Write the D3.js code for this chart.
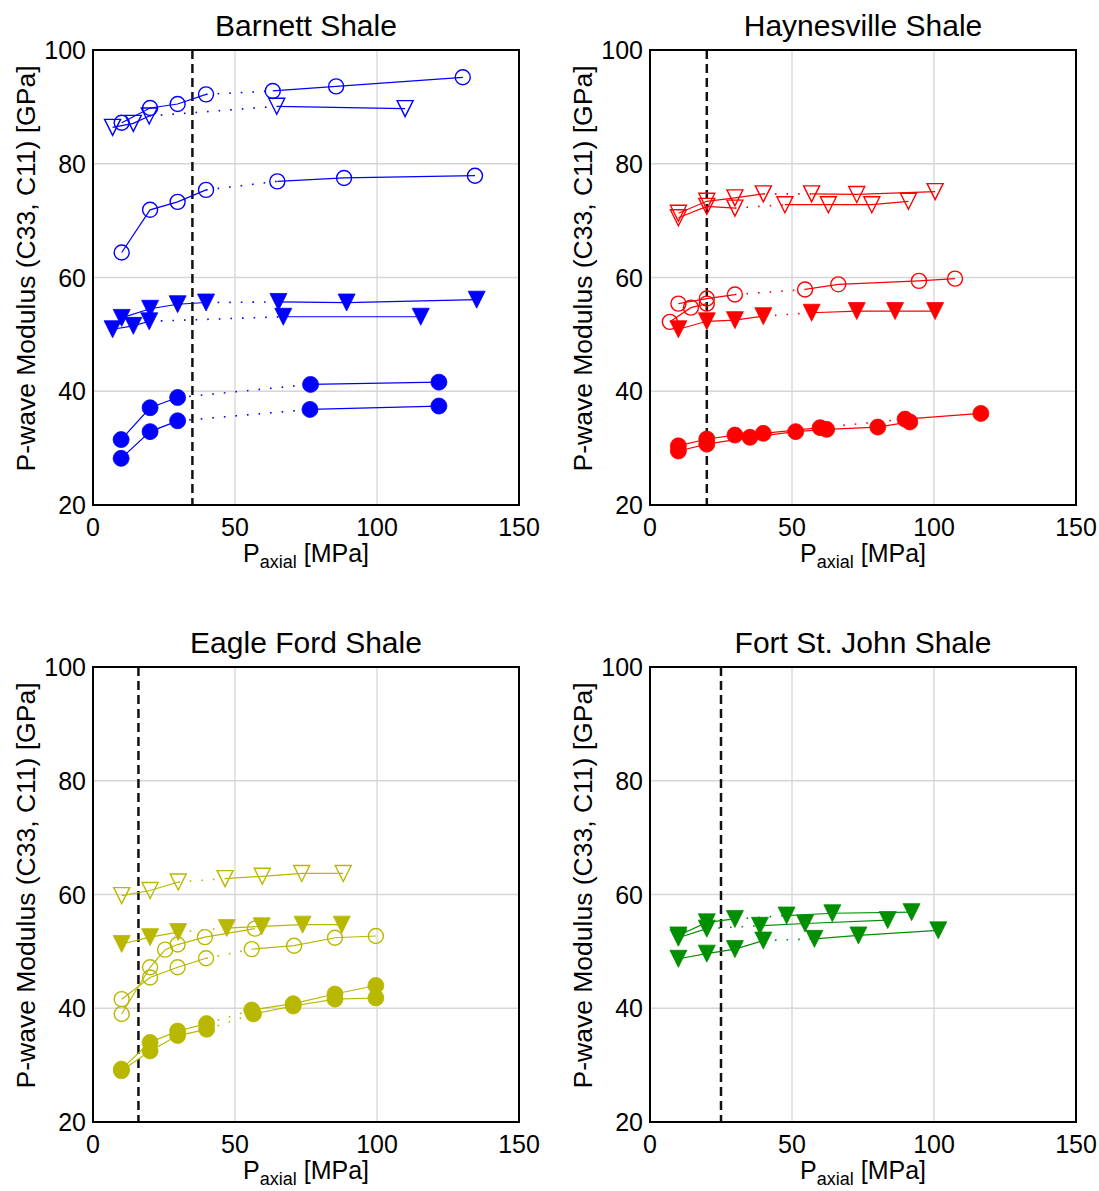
<!DOCTYPE html>
<html>
<head>
<script src="https://d3js.org/d3.v7.min.js" charset="utf-8"></script>
<style>
  body { margin: 0; background: #fff; }
  text { font-family: "Liberation Sans", Arial, sans-serif; fill: #000; }
</style>
</head>
<body>
<script>
// axis ticks shared by all panels
var xTicks = [0, 50, 100, 150];
var yTicks = [20, 40, 60, 80, 100];

var titles = ["Barnett Shale", "Haynesville Shale", "Eagle Ford Shale", "Fort St. John Shale"];
var colors = ["#0000ff", "#ff0000", "#b8b800", "#008f00"];
var dashX = [35, 20, 16, 25];   // vertical dashed line in each panel

// marker: o = circle, v = triangle down; filled: 1/0
// gap = index of first point after the dotted connection (null = none)
var barnettX = [
  [10.1, 20.1, 29.8, 39.8, 63.3, 85.6, 130.2],
  [6.9, 14.2, 19.8, 64.7, 109.9],
  [10.1, 20.1, 29.8, 39.8, 64.9, 88.4, 134.5],
  [10.1, 20.1, 29.8, 39.8, 65.3, 89.3, 135.1],
  [6.9, 14.2, 19.8, 67, 115.4],
  [9.9, 20.1, 29.8, 76.6, 121.8],
  [9.9, 20.1, 29.8, 76.4, 121.8]
];
var barnettY = [
  [87.2, 89.8, 90.5, 92.2, 92.8, 93.6, 95.2],
  [86.4, 87.1, 88.4, 90.1, 89.7],
  [64.4, 71.9, 73.3, 75.4, 76.9, 77.5, 77.9],
  [52.9, 54.5, 55.3, 55.6, 55.7, 55.6, 56.1],
  [50.9, 51.5, 52.3, 53.1, 53.1],
  [31.5, 37.1, 38.9, 41.2, 41.6],
  [28.2, 32.9, 34.8, 36.8, 37.4]
];
var barnettMarker = ["o", "v", "o", "v", "v", "o", "o"];
var barnettFilled = [0, 0, 0, 1, 1, 1, 1];
var barnettGap = [4, 3, 4, 4, 3, 3, 3];

var haynesX = [
  [10, 20, 29.9, 39.9, 56.9, 72.8, 100.4],
  [10, 20, 29.9, 47.5, 62.8, 78.1, 91],
  [7, 14.4, 20],
  [10, 20, 29.9, 54.6, 66.3, 94.7, 107.4],
  [10, 20, 29.9, 39.9, 56.9, 72.8, 86.3, 100.4],
  [10, 20, 29.9, 39.9, 59.9, 89.8, 116.5],
  [10, 20, 35.2, 51.3, 62.2, 80.2, 91.5]
];
var haynesY = [
  [71.3, 73.4, 74.0, 74.7, 74.7, 74.6, 75.1],
  [70.5, 72.5, 72.2, 72.8, 72.8, 72.8, 73.4],
  [52.2, 54.7, 55.4],
  [55.4, 56.3, 57.0, 57.9, 58.8, 59.4, 59.8],
  [50.9, 52.3, 52.5, 53.2, 53.8, 54.1, 54.1, 54.1],
  [30.4, 31.6, 32.3, 32.6, 33.6, 35.1, 36.1],
  [29.5, 30.7, 31.9, 32.9, 33.3, 33.7, 34.6]
];
var haynesMarker = ["v", "v", "o", "o", "v", "o", "o"];
var haynesFilled = [0, 0, 0, 0, 1, 1, 1];
var haynesGap = [4, 3, null, 3, 4, 5, null];

var eagleX = [
  [10.1, 20.1, 30, 46.5, 59.6, 73.5, 88.1],
  [10.1, 20.1, 30, 47.1, 59.4, 73.8, 87.6],
  [10.1, 20.1, 25.4, 29.8, 39.4, 57],
  [10.1, 20.1, 29.8, 39.8, 55.9, 70.8, 85.2, 99.6],
  [10, 20.1, 29.8, 40, 55.9, 70.5, 85.2, 99.6],
  [10, 20.1, 29.8, 40, 56.5, 70.5, 85.2, 99.6]
];
var eagleY = [
  [59.8, 60.7, 62.2, 62.8, 63.2, 63.7, 63.7],
  [51.3, 52.5, 53.4, 54.1, 54.4, 54.7, 54.7],
  [39.0, 47.2, 50.3, 51.2, 52.5, 54.0],
  [41.6, 45.4, 47.2, 48.8, 50.4, 51.0, 52.4, 52.7],
  [29.3, 34.0, 36.0, 37.3, 39.7, 40.8, 42.5, 44.0],
  [29.0, 32.5, 35.2, 36.3, 39.0, 40.4, 41.6, 41.8]
];
var eagleMarker = ["v", "v", "o", "o", "o", "o"];
var eagleFilled = [0, 1, 0, 0, 1, 1];
var eagleGap = [3, 3, null, 4, 4, 4];

var fsjX = [
  [10, 20, 29.9, 48.1, 64.2, 92.1],
  [10, 20, 38.7, 54.6, 83.7],
  [10, 20, 29.9, 39.9, 57.9, 73.4, 101.5]
];
var fsjY = [
  [52.8, 55.1, 55.7, 56.3, 56.7, 56.9],
  [52.4, 54.0, 54.5, 54.9, 55.5],
  [48.7, 49.6, 50.4, 51.9, 52.2, 52.8, 53.7]
];
var fsjMarker = ["v", "v", "v"];
var fsjFilled = [1, 1, 1];
var fsjGap = [3, 2, 4];

var panels = [
  { xs: barnettX, ys: barnettY, mk: barnettMarker, fl: barnettFilled, gp: barnettGap, left: 93, top: 50 },
  { xs: haynesX, ys: haynesY, mk: haynesMarker, fl: haynesFilled, gp: haynesGap, left: 650, top: 50 },
  { xs: eagleX, ys: eagleY, mk: eagleMarker, fl: eagleFilled, gp: eagleGap, left: 93, top: 667 },
  { xs: fsjX, ys: fsjY, mk: fsjMarker, fl: fsjFilled, gp: fsjGap, left: 650, top: 667 }
];

var W = 426, H = 455;

var svg = d3.select("body").append("svg")
  .attr("width", 1099)
  .attr("height", 1191);

var triPath = function (s) {
  return "M" + (-s) + "," + (-s) + "L" + s + "," + (-s) + "L0," + s + "Z";
};

panels.forEach(function (p, pi) {
  var col = colors[pi];
  var g = svg.append("g").attr("transform", "translate(" + p.left + "," + p.top + ")");
  var x = d3.scaleLinear().domain([0, 150]).range([0, W]);
  var y = d3.scaleLinear().domain([20, 100]).range([H, 0]);

  // grid
  g.selectAll(".gx").data(xTicks.slice(1, -1)).enter().append("line")
    .attr("x1", function (d) { return x(d); }).attr("x2", function (d) { return x(d); })
    .attr("y1", 0).attr("y2", H)
    .style("stroke", "#d6d6d6").style("stroke-width", 1.3);
  g.selectAll(".gy").data(yTicks.slice(1, -1)).enter().append("line")
    .attr("y1", function (d) { return y(d); }).attr("y2", function (d) { return y(d); })
    .attr("x1", 0).attr("x2", W)
    .style("stroke", "#d6d6d6").style("stroke-width", 1.3);

  // tick labels
  g.selectAll(".tx").data(xTicks).enter().append("text")
    .attr("x", function (d) { return x(d); })
    .attr("y", H + 31)
    .attr("text-anchor", "middle")
    .style("font-size", "25px")
    .text(function (d) { return d; });
  g.selectAll(".ty").data(yTicks).enter().append("text")
    .attr("x", -7)
    .attr("y", function (d) { return y(d); })
    .attr("dy", "0.36em")
    .attr("text-anchor", "end")
    .style("font-size", "25px")
    .text(function (d) { return d; });

  // title
  g.append("text")
    .attr("x", W / 2).attr("y", -14)
    .attr("text-anchor", "middle")
    .style("font-size", "30px")
    .text(titles[pi]);

  // x label
  var xl = g.append("text")
    .attr("x", W / 2).attr("y", H + 57)
    .attr("text-anchor", "middle")
    .style("font-size", "25px");
  xl.append("tspan").text("P");
  xl.append("tspan").attr("dy", 6).style("font-size", "18px").text("axial");
  xl.append("tspan").attr("dy", -6).text(" [MPa]");

  // y label
  g.append("text")
    .attr("transform", "translate(-58," + (H / 2 - 9) + ") rotate(-90)")
    .attr("text-anchor", "middle")
    .style("font-size", "26.5px")
    .text("P-wave Modulus (C33, C11) [GPa]");

  // dashed vertical line
  g.append("line")
    .attr("x1", x(dashX[pi])).attr("x2", x(dashX[pi]))
    .attr("y1", 0).attr("y2", H)
    .style("stroke", "#111").style("stroke-width", 2.5)
    .style("stroke-dasharray", "9,5");

  var line = d3.line()
    .x(function (d) { return x(d[0]); })
    .y(function (d) { return y(d[1]); });

  p.xs.forEach(function (xs, si) {
    var pts = xs.map(function (v, i) { return [v, p.ys[si][i]]; });
    var gap = p.gp[si];
    var parts = gap == null ? [pts] : [pts.slice(0, gap), pts.slice(gap)];
    parts.forEach(function (part) {
      g.append("path").datum(part).attr("d", line)
        .style("fill", "none").style("stroke", col).style("stroke-width", 1.2);
    });
    if (gap != null) {
      g.append("path").datum([pts[gap - 1], pts[gap]]).attr("d", line)
        .style("fill", "none").style("stroke", col).style("stroke-width", 1.6)
        .style("stroke-dasharray", "1.6,10");
    }
    var filled = p.fl[si] === 1;
    var mk = g.selectAll(null).data(pts).enter();
    if (p.mk[si] === "o") {
      mk.append("circle")
        .attr("cx", function (d) { return x(d[0]); })
        .attr("cy", function (d) { return y(d[1]); })
        .attr("r", filled ? 8 : 7.5)
        .style("fill", filled ? col : "none")
        .style("stroke", col).style("stroke-width", filled ? 0.8 : 1.4);
    } else {
      mk.append("path")
        .attr("transform", function (d) { return "translate(" + x(d[0]) + "," + y(d[1]) + ")"; })
        .attr("d", triPath(filled ? 8.5 : 8))
        .style("fill", filled ? col : "none")
        .style("stroke", col).style("stroke-width", filled ? 0.8 : 1.4)
        .style("stroke-linejoin", "miter");
    }
  });

  // frame
  g.append("rect").attr("width", W).attr("height", H)
    .style("fill", "none").style("stroke", "#000").style("stroke-width", 2);
});
</script>
</body>
</html>
